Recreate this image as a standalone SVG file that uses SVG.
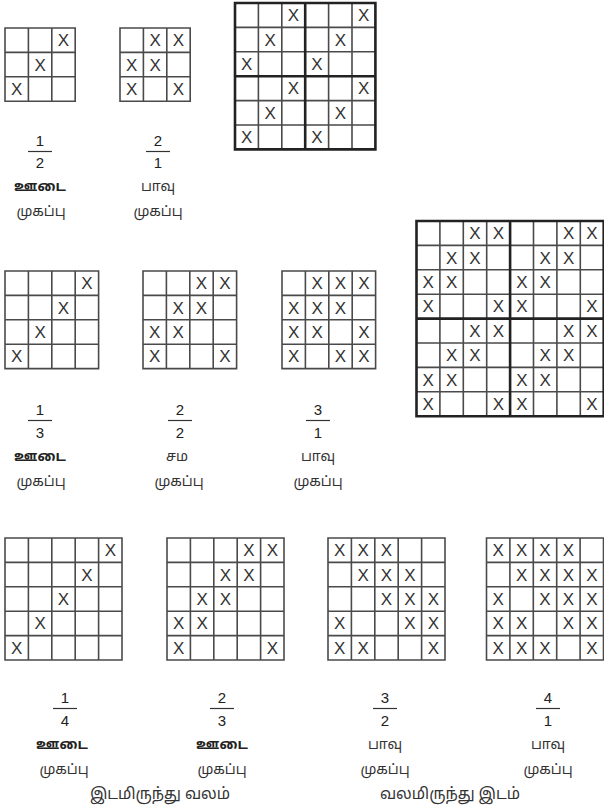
<svg xmlns="http://www.w3.org/2000/svg" width="604" height="810" viewBox="0 0 604 810">
<style>
.g{fill:none;stroke:#4a4a4a;stroke-width:1.6}
.t{fill:none;stroke:#222;stroke-width:2.6}
.x{font-family:"Liberation Sans",Arial,sans-serif;font-size:17px;fill:#333;text-anchor:middle}
.n{font-family:"Liberation Sans",Arial,sans-serif;font-size:15px;fill:#222;text-anchor:middle}
.w{font-family:"Noto Sans Tamil","Lohit Tamil","Noto Sans",sans-serif;font-size:14px;fill:#333;text-anchor:middle}
.b{font-weight:bold;fill:#222}
.c{font-family:"Noto Sans Tamil","Lohit Tamil","Noto Sans",sans-serif;font-size:15.5px;fill:#333;text-anchor:middle}
.bar{stroke:#333;stroke-width:1.2}
</style>
<rect width="604" height="810" fill="#fff"/>

<g id="grid3a" transform="translate(5,28)">
<path class="g" d="M0 0H70.2V73.2H0Z M23.4 0V73.2 M46.8 0V73.2 M0 24.4H70.2 M0 48.8H70.2"/>
<text class="x" x="58.5" y="18.2">X</text><text class="x" x="35.1" y="42.6">X</text><text class="x" x="11.7" y="67">X</text>
</g>
<g id="grid3b" transform="translate(120,28)">
<path class="g" d="M0 0H70.2V73.2H0Z M23.4 0V73.2 M46.8 0V73.2 M0 24.4H70.2 M0 48.8H70.2"/>
<text class="x" x="35.1" y="18.2">X</text><text class="x" x="58.5" y="18.2">X</text>
<text class="x" x="11.7" y="42.6">X</text><text class="x" x="35.1" y="42.6">X</text>
<text class="x" x="11.7" y="67">X</text><text class="x" x="58.5" y="67">X</text>
</g>
<g id="grid6" transform="translate(235,3)">
<path class="g" d="M23.4 0V146.4 M46.8 0V146.4 M93.6 0V146.4 M117 0V146.4 M0 24.4H140.4 M0 48.8H140.4 M0 97.6H140.4 M0 122H140.4"/>
<path class="t" d="M0 0H140.4V146.4H0Z M70.2 0V146.4 M0 73.2H140.4"/>
<text class="x" x="58.5" y="18.2">X</text><text class="x" x="128.7" y="18.2">X</text>
<text class="x" x="35.1" y="42.6">X</text><text class="x" x="105.3" y="42.6">X</text>
<text class="x" x="11.7" y="67">X</text><text class="x" x="81.9" y="67">X</text>
<text class="x" x="58.5" y="91.4">X</text><text class="x" x="128.7" y="91.4">X</text>
<text class="x" x="35.1" y="115.8">X</text><text class="x" x="105.3" y="115.8">X</text>
<text class="x" x="11.7" y="140.2">X</text><text class="x" x="81.9" y="140.2">X</text>
</g>

<g id="label12">
<text class="n" x="40" y="146">1</text><line class="bar" x1="28" y1="151.5" x2="52" y2="151.5"/><text class="n" x="40" y="168">2</text>
<text class="w b" x="40" y="191">ஊடை</text><text class="w" x="41" y="216">முகப்பு</text>
</g>
<g id="label21">
<text class="n" x="158" y="146">2</text><line class="bar" x1="146" y1="151.5" x2="170" y2="151.5"/><text class="n" x="158" y="168">1</text>
<text class="w" x="158" y="191">பாவு</text><text class="w" x="158" y="216">முகப்பு</text>
</g>

<g id="grid8" transform="translate(416.5,221)">
<path class="g" d="M23.4 0V195.2 M46.8 0V195.2 M70.2 0V195.2 M117 0V195.2 M140.4 0V195.2 M163.8 0V195.2 M0 24.4H187.2 M0 48.8H187.2 M0 73.2H187.2 M0 122H187.2 M0 146.4H187.2 M0 170.8H187.2"/>
<path class="t" d="M0 0H187.2V195.2H0Z M93.6 0V195.2 M0 97.6H187.2"/>
<text class="x" x="58.5" y="18.2">X</text><text class="x" x="81.9" y="18.2">X</text><text class="x" x="152.1" y="18.2">X</text><text class="x" x="175.5" y="18.2">X</text>
<text class="x" x="35.1" y="42.6">X</text><text class="x" x="58.5" y="42.6">X</text><text class="x" x="128.7" y="42.6">X</text><text class="x" x="152.1" y="42.6">X</text>
<text class="x" x="11.7" y="67">X</text><text class="x" x="35.1" y="67">X</text><text class="x" x="105.3" y="67">X</text><text class="x" x="128.7" y="67">X</text>
<text class="x" x="11.7" y="91.4">X</text><text class="x" x="81.9" y="91.4">X</text><text class="x" x="105.3" y="91.4">X</text><text class="x" x="175.5" y="91.4">X</text>
<text class="x" x="58.5" y="115.8">X</text><text class="x" x="81.9" y="115.8">X</text><text class="x" x="152.1" y="115.8">X</text><text class="x" x="175.5" y="115.8">X</text>
<text class="x" x="35.1" y="140.2">X</text><text class="x" x="58.5" y="140.2">X</text><text class="x" x="128.7" y="140.2">X</text><text class="x" x="152.1" y="140.2">X</text>
<text class="x" x="11.7" y="164.6">X</text><text class="x" x="35.1" y="164.6">X</text><text class="x" x="105.3" y="164.6">X</text><text class="x" x="128.7" y="164.6">X</text>
<text class="x" x="11.7" y="189">X</text><text class="x" x="81.9" y="189">X</text><text class="x" x="105.3" y="189">X</text><text class="x" x="175.5" y="189">X</text>
</g>

<g id="grid4a" transform="translate(5,271)">
<path class="g" d="M0 0H93.6V97.6H0Z M23.4 0V97.6 M46.8 0V97.6 M70.2 0V97.6 M0 24.4H93.6 M0 48.8H93.6 M0 73.2H93.6"/>
<text class="x" x="81.9" y="18.2">X</text><text class="x" x="58.5" y="42.6">X</text><text class="x" x="35.1" y="67">X</text><text class="x" x="11.7" y="91.4">X</text>
</g>
<g id="grid4b" transform="translate(143,271)">
<path class="g" d="M0 0H93.6V97.6H0Z M23.4 0V97.6 M46.8 0V97.6 M70.2 0V97.6 M0 24.4H93.6 M0 48.8H93.6 M0 73.2H93.6"/>
<text class="x" x="58.5" y="18.2">X</text><text class="x" x="81.9" y="18.2">X</text>
<text class="x" x="35.1" y="42.6">X</text><text class="x" x="58.5" y="42.6">X</text>
<text class="x" x="11.7" y="67">X</text><text class="x" x="35.1" y="67">X</text>
<text class="x" x="11.7" y="91.4">X</text><text class="x" x="81.9" y="91.4">X</text>
</g>
<g id="grid4c" transform="translate(282,271)">
<path class="g" d="M0 0H93.6V97.6H0Z M23.4 0V97.6 M46.8 0V97.6 M70.2 0V97.6 M0 24.4H93.6 M0 48.8H93.6 M0 73.2H93.6"/>
<text class="x" x="35.1" y="18.2">X</text><text class="x" x="58.5" y="18.2">X</text><text class="x" x="81.9" y="18.2">X</text>
<text class="x" x="11.7" y="42.6">X</text><text class="x" x="35.1" y="42.6">X</text><text class="x" x="58.5" y="42.6">X</text>
<text class="x" x="11.7" y="67">X</text><text class="x" x="35.1" y="67">X</text><text class="x" x="81.9" y="67">X</text>
<text class="x" x="11.7" y="91.4">X</text><text class="x" x="58.5" y="91.4">X</text><text class="x" x="81.9" y="91.4">X</text>
</g>

<g id="label13">
<text class="n" x="40" y="415">1</text><line class="bar" x1="28" y1="420.5" x2="52" y2="420.5"/><text class="n" x="40" y="438">3</text>
<text class="w b" x="40" y="461">ஊடை</text><text class="w" x="41" y="486">முகப்பு</text>
</g>
<g id="label22">
<text class="n" x="180" y="415">2</text><line class="bar" x1="168" y1="420.5" x2="192" y2="420.5"/><text class="n" x="180" y="438">2</text>
<text class="w" x="177" y="461">சம</text><text class="w" x="179" y="486">முகப்பு</text>
</g>
<g id="label31">
<text class="n" x="318" y="415">3</text><line class="bar" x1="306" y1="420.5" x2="330" y2="420.5"/><text class="n" x="318" y="438">1</text>
<text class="w" x="318" y="461">பாவு</text><text class="w" x="318" y="486">முகப்பு</text>
</g>

<g id="grid5a" transform="translate(5,538)">
<path class="g" d="M0 0H117V122H0Z M23.4 0V122 M46.8 0V122 M70.2 0V122 M93.6 0V122 M0 24.4H117 M0 48.8H117 M0 73.2H117 M0 97.6H117"/>
<text class="x" x="105.3" y="18.2">X</text><text class="x" x="81.9" y="42.6">X</text><text class="x" x="58.5" y="67">X</text><text class="x" x="35.1" y="91.4">X</text><text class="x" x="11.7" y="115.8">X</text>
</g>
<g id="grid5b" transform="translate(167,538)">
<path class="g" d="M0 0H117V122H0Z M23.4 0V122 M46.8 0V122 M70.2 0V122 M93.6 0V122 M0 24.4H117 M0 48.8H117 M0 73.2H117 M0 97.6H117"/>
<text class="x" x="81.9" y="18.2">X</text><text class="x" x="105.3" y="18.2">X</text>
<text class="x" x="58.5" y="42.6">X</text><text class="x" x="81.9" y="42.6">X</text>
<text class="x" x="35.1" y="67">X</text><text class="x" x="58.5" y="67">X</text>
<text class="x" x="11.7" y="91.4">X</text><text class="x" x="35.1" y="91.4">X</text>
<text class="x" x="11.7" y="115.8">X</text><text class="x" x="105.3" y="115.8">X</text>
</g>
<g id="grid5c" transform="translate(328,538)">
<path class="g" d="M0 0H117V122H0Z M23.4 0V122 M46.8 0V122 M70.2 0V122 M93.6 0V122 M0 24.4H117 M0 48.8H117 M0 73.2H117 M0 97.6H117"/>
<text class="x" x="11.7" y="18.2">X</text><text class="x" x="35.1" y="18.2">X</text><text class="x" x="58.5" y="18.2">X</text>
<text class="x" x="35.1" y="42.6">X</text><text class="x" x="58.5" y="42.6">X</text><text class="x" x="81.9" y="42.6">X</text>
<text class="x" x="58.5" y="67">X</text><text class="x" x="81.9" y="67">X</text><text class="x" x="105.3" y="67">X</text>
<text class="x" x="11.7" y="91.4">X</text><text class="x" x="81.9" y="91.4">X</text><text class="x" x="105.3" y="91.4">X</text>
<text class="x" x="11.7" y="115.8">X</text><text class="x" x="35.1" y="115.8">X</text><text class="x" x="105.3" y="115.8">X</text>
</g>
<g id="grid5d" transform="translate(486.5,538)">
<path class="g" d="M0 0H117V122H0Z M23.4 0V122 M46.8 0V122 M70.2 0V122 M93.6 0V122 M0 24.4H117 M0 48.8H117 M0 73.2H117 M0 97.6H117"/>
<text class="x" x="11.7" y="18.2">X</text><text class="x" x="35.1" y="18.2">X</text><text class="x" x="58.5" y="18.2">X</text><text class="x" x="81.9" y="18.2">X</text>
<text class="x" x="35.1" y="42.6">X</text><text class="x" x="58.5" y="42.6">X</text><text class="x" x="81.9" y="42.6">X</text><text class="x" x="105.3" y="42.6">X</text>
<text class="x" x="11.7" y="67">X</text><text class="x" x="58.5" y="67">X</text><text class="x" x="81.9" y="67">X</text><text class="x" x="105.3" y="67">X</text>
<text class="x" x="11.7" y="91.4">X</text><text class="x" x="35.1" y="91.4">X</text><text class="x" x="81.9" y="91.4">X</text><text class="x" x="105.3" y="91.4">X</text>
<text class="x" x="11.7" y="115.8">X</text><text class="x" x="35.1" y="115.8">X</text><text class="x" x="58.5" y="115.8">X</text><text class="x" x="105.3" y="115.8">X</text>
</g>

<g id="label14">
<text class="n" x="65" y="703">1</text><line class="bar" x1="53" y1="708.5" x2="77" y2="708.5"/><text class="n" x="65" y="726">4</text>
<text class="w b" x="62" y="749">ஊடை</text><text class="w" x="64" y="774">முகப்பு</text>
</g>
<g id="label23">
<text class="n" x="222" y="703">2</text><line class="bar" x1="210" y1="708.5" x2="234" y2="708.5"/><text class="n" x="222" y="726">3</text>
<text class="w b" x="222" y="749">ஊடை</text><text class="w" x="222" y="774">முகப்பு</text>
</g>
<g id="label32">
<text class="n" x="385" y="703">3</text><line class="bar" x1="373" y1="708.5" x2="397" y2="708.5"/><text class="n" x="385" y="726">2</text>
<text class="w" x="385" y="749">பாவு</text><text class="w" x="385" y="774">முகப்பு</text>
</g>
<g id="label41">
<text class="n" x="548" y="703">4</text><line class="bar" x1="536" y1="708.5" x2="560" y2="708.5"/><text class="n" x="548" y="726">1</text>
<text class="w" x="548" y="749">பாவு</text><text class="w" x="548" y="774">முகப்பு</text>
</g>
<g id="captions">
<text class="c" x="160" y="799">இடமிருந்து வலம்</text>
<text class="c" x="450" y="799">வலமிருந்து இடம்</text>
</g>
</svg>
